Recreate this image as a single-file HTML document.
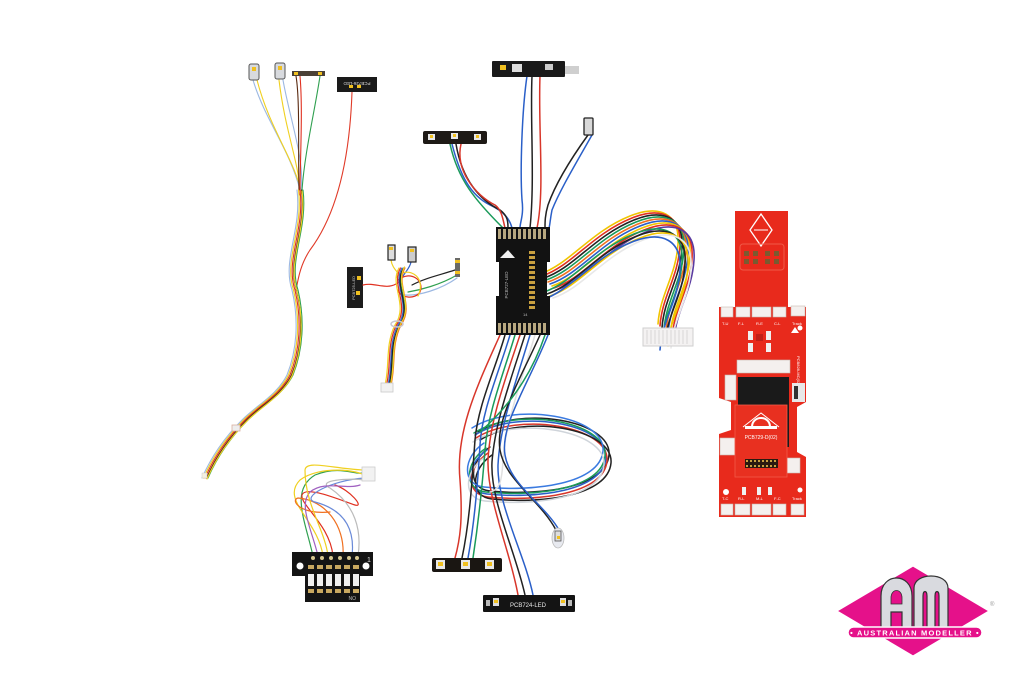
<!DOCTYPE html>
<html><head><meta charset="utf-8"><style>
html,body{margin:0;padding:0;background:#fff;}
svg{display:block;}
text{font-family:"Liberation Sans",sans-serif;}
</style></head><body>
<svg width="1024" height="683" viewBox="0 0 1024 683" xmlns="http://www.w3.org/2000/svg">
<rect width="1024" height="683" fill="#ffffff"/>
<defs>
<path id="trunk" d="M300,190 C305,230 285,260 295,290 C302,320 300,350 290,375 C280,395 260,405 245,420 C230,435 215,455 205,478"/>
<path id="rh" d="M550,280 C580,270 600,238 640,222 C670,210 690,220 688,250 C686,282 670,300 668,330"/>
<path id="mlb" d="M402,268 C392,285 412,305 398,325 C388,345 393,365 388,385"/>
<path id="loop" d="M478,432 C520,405 612,420 609,455 C606,488 540,496 490,491 C468,489 468,462 490,447"/>
</defs>

<!-- ===== Left long harness ===== -->
<g fill="none" stroke-width="1.1" stroke-linecap="round">
<path d="M253,80 C265,120 290,150 300,190" stroke="#9cb8e2"/>
<path d="M257,80 C270,130 295,160 302,195" stroke="#f0d020"/>
<path d="M279,80 C285,130 298,160 300,190" stroke="#f0d020"/>
<path d="M283,80 C290,120 305,160 301,190" stroke="#9cb8e2"/>
<path d="M296,76 C300,100 298,150 299,190" stroke="#5a2a10"/>
<path d="M300,76 C303,110 300,160 300,195" stroke="#e03020"/>
<path d="M320,76 C315,110 305,150 302,190" stroke="#30a050"/>
<path d="M352,92 C350,150 340,210 310,250 C300,265 298,280 296,290" stroke="#e03a28"/>
<use href="#trunk" stroke="#9cb8e2" transform="translate(-3,0)"/>
<use href="#trunk" stroke="#f0d020" transform="translate(-1.5,0)"/>
<use href="#trunk" stroke="#e03020" transform="translate(0,0)"/>
<use href="#trunk" stroke="#5a2a10" transform="translate(1.5,0)"/>
<use href="#trunk" stroke="#30a050" transform="translate(3,0)"/>
<use href="#trunk" stroke="#f0d020" transform="translate(2,1)"/>
</g>
<rect x="232" y="425" width="8" height="6" fill="#eee" stroke="#d9b0a0" stroke-width="0.8"/>
<rect x="202" y="473" width="5" height="5" fill="#f4f0e0" stroke="#ccc" stroke-width="0.5"/>

<!-- top-left components -->
<rect x="249" y="64" width="10" height="16" rx="2" fill="#d8dade" stroke="#555" stroke-width="1"/>
<rect x="252" y="67" width="4" height="4" fill="#f0c020"/>
<rect x="275" y="63" width="10" height="16" rx="2" fill="#d8dade" stroke="#555" stroke-width="1"/>
<rect x="278" y="66" width="4" height="4" fill="#f0c020"/>
<rect x="292" y="71" width="33" height="5" fill="#4a4036"/>
<rect x="294" y="72" width="4" height="3" fill="#f0c020"/><rect x="318" y="72" width="4" height="3" fill="#f0c020"/>
<rect x="337" y="77" width="40" height="15" fill="#1a1a1a"/>
<text x="357" y="84" font-size="4.5" fill="#ddd" text-anchor="middle" transform="rotate(180 357 83)">PCB726-LED</text>
<rect x="349" y="85" width="4" height="3" fill="#f0c020"/><rect x="357" y="85" width="4" height="3" fill="#f0c020"/>

<!-- ===== Middle-left harness ===== -->
<rect x="347" y="267" width="16" height="41" fill="#1c1c1c"/>
<text x="355" y="288" font-size="4" fill="#ccc" text-anchor="middle" transform="rotate(-90 355 288)">PCB725-LED</text>
<rect x="357" y="276" width="4" height="4" fill="#f0c020"/><rect x="356" y="291" width="4" height="4" fill="#f0c020"/>
<g fill="none" stroke-width="1.2" stroke-linecap="round">
<path d="M363,285 C375,282 385,290 396,284 C400,282 402,278 402,272" stroke="#e03020"/>
<path d="M391,260 C392,268 398,272 400,276" stroke="#f0d020"/>
<path d="M411,262 C410,268 405,272 402,278" stroke="#3060c8"/>
<path d="M455,270 C440,275 425,278 412,285" stroke="#222"/>
<path d="M457,275 C440,285 420,290 408,292" stroke="#30a050"/>
<path d="M457,278 C440,290 418,296 405,295" stroke="#9cb8e2"/>
<path d="M398,280 C410,270 425,280 420,292 C415,300 400,298 398,290" stroke="#e03020"/>
<path d="M396,278 C405,265 428,275 418,296" stroke="#f0d020"/>
<use href="#mlb" stroke="#f0d020" transform="translate(-3,0)"/>
<use href="#mlb" stroke="#e03020" transform="translate(-1.5,0)"/>
<use href="#mlb" stroke="#3060c8" transform="translate(0,0)"/>
<use href="#mlb" stroke="#30a050" transform="translate(1.5,0)"/>
<use href="#mlb" stroke="#f07020" transform="translate(3,0)"/>
<use href="#mlb" stroke="#222" transform="translate(1,1)"/>
<use href="#mlb" stroke="#f0d020" transform="translate(2.5,-1)"/>
</g>
<ellipse cx="397" cy="324" rx="6" ry="3" fill="none" stroke="#c8c8d0" stroke-width="1.5"/>
<rect x="388" y="245" width="7" height="15" fill="#ddd" stroke="#222" stroke-width="1.2"/>
<rect x="389" y="247" width="4" height="3" fill="#f0c020"/>
<rect x="408" y="247" width="8" height="15" fill="#ccc" stroke="#222" stroke-width="1.2"/>
<rect x="410" y="249" width="4" height="3" fill="#f0c020"/>
<rect x="455" y="258" width="5" height="19" fill="#6a6a66"/>
<rect x="455" y="260" width="5" height="3" fill="#f0c020"/><rect x="455" y="271" width="5" height="3" fill="#f0c020"/>
<rect x="381" y="383" width="12" height="9" fill="#f2f2f2" stroke="#c8c8c8" stroke-width="0.8"/>

<!-- ===== Top middle wiring ===== -->
<g fill="none" stroke-width="1.5" stroke-linecap="round">
<path d="M527,76 C522,110 520,170 522,200 C524,215 520,222 520,228" stroke="#2a5fc8"/>
<path d="M532,76 C530,120 535,180 530,228" stroke="#222"/>
<path d="M540,76 C538,130 545,190 537,228" stroke="#d8362a"/>
<path d="M450,144 C458,180 475,200 503,228" stroke="#1a9a5a"/>
<path d="M452,144 C460,175 470,195 490,205 C505,212 510,220 512,228" stroke="#2a5fc8"/>
<path d="M456,144 C462,180 480,200 500,210 C508,216 508,222 508,228" stroke="#222"/>
<path d="M461,144 C455,170 475,195 495,205 C502,210 503,220 505,228" stroke="#d8362a"/>
<path d="M588,135 C570,160 555,185 548,205 C545,215 545,222 545,228" stroke="#222"/>
<path d="M592,135 C575,165 560,190 552,210 C550,220 550,225 549,228" stroke="#2a5fc8"/>
</g>
<rect x="492" y="61" width="73" height="16" rx="1" fill="#1a1a1a"/>
<rect x="565" y="66" width="14" height="8" fill="#cfcfcf"/>
<rect x="500" y="65" width="6" height="5" fill="#f0c020"/>
<rect x="512" y="64" width="10" height="8" fill="#ddd"/>
<rect x="545" y="64" width="8" height="6" fill="#ccc"/>
<rect x="423" y="131" width="64" height="13" rx="2" fill="#1e1a16"/>
<rect x="428" y="134" width="7" height="6" fill="#e8e8e8"/><rect x="430" y="135" width="3" height="3" fill="#f0c020"/>
<rect x="451" y="133" width="7" height="6" fill="#e8e8e8"/><rect x="453" y="134" width="3" height="3" fill="#f0c020"/>
<rect x="474" y="134" width="7" height="6" fill="#e8e8e8"/><rect x="476" y="135" width="3" height="3" fill="#f0c020"/>
<rect x="584" y="118" width="9" height="17" rx="1" fill="#d8d8d8" stroke="#222" stroke-width="1.3"/>

<!-- ===== Right harness ===== -->
<g fill="none" stroke-width="1.6" stroke-linecap="round">
<use href="#rh" stroke="#f0c400" transform="translate(-10,-6)"/>
<use href="#rh" stroke="#e03020" transform="translate(-8,-4)"/>
<use href="#rh" stroke="#222" transform="translate(-6,-2)"/>
<use href="#rh" stroke="#1a9a5a" transform="translate(-4,0)"/>
<use href="#rh" stroke="#f07020" transform="translate(-2,2)"/>
<use href="#rh" stroke="#2a5fc8" transform="translate(0,4)"/>
<use href="#rh" stroke="#f0c400" transform="translate(2,6)"/>
<use href="#rh" stroke="#e03020" transform="translate(4,8)"/>
<use href="#rh" stroke="#5a3aa0" transform="translate(6,10)"/>
<use href="#rh" stroke="#1a9a5a" transform="translate(-6,12)"/>
<use href="#rh" stroke="#222" transform="translate(-3,14)"/>
<use href="#rh" stroke="#f0c400" transform="translate(0,16)"/>
<use href="#rh" stroke="#e8e8e8" transform="translate(3,18)"/>
<use href="#rh" stroke="#2a5fc8" transform="translate(-8,20)"/>
</g>
<rect x="643" y="328" width="50" height="18" fill="#f4f2f2" stroke="#cfcfcf" stroke-width="1"/>
<g stroke="#d0d0d0" stroke-width="0.8"><path d="M647,330v14M651,330v14M655,330v14M659,330v14M663,330v14M667,330v14M671,330v14M675,330v14M679,330v14M683,330v14M687,330v14"/></g>

<!-- ===== Bottom wiring from middle board ===== -->
<g fill="none" stroke-width="1.5" stroke-linecap="round">
<use href="#loop" stroke="#222" transform="translate(0,0)"/>
<use href="#loop" stroke="#2a5fc8" transform="translate(-3,3)"/>
<use href="#loop" stroke="#d8362a" transform="translate(-2,6)"/>
<use href="#loop" stroke="#1a9a5a" transform="translate(-4,1)"/>
<use href="#loop" stroke="#222" transform="translate(2,8)"/>
<use href="#loop" stroke="#3a7ae0" transform="translate(-6,-4)"/>
<use href="#loop" stroke="#cfd4da" transform="translate(-5,10)"/>
<path d="M500,335 C480,380 455,430 460,480 C463,520 460,540 455,558" stroke="#d8362a"/>
<path d="M505,335 C495,370 478,405 475,440 C472,480 470,520 462,558" stroke="#222"/>
<path d="M510,335 C498,375 482,410 480,445 C478,480 475,520 468,558" stroke="#2a5fc8"/>
<path d="M515,335 C502,378 488,412 485,450 C482,490 478,525 473,558" stroke="#1a9a5a"/>
<path d="M520,335 C505,380 490,420 488,460 C487,500 510,550 518,595" stroke="#d8362a"/>
<path d="M525,335 C510,382 495,422 492,462 C490,500 515,550 525,595" stroke="#222"/>
<path d="M530,335 C515,385 500,425 498,465 C497,505 525,555 533,595" stroke="#2a5fc8"/>
<path d="M535,335 C520,385 505,425 503,460 C502,480 500,490 490,492" stroke="#e0e0e0"/>
<path d="M540,335 C520,380 495,420 500,450 C505,480 540,500 556,530" stroke="#222"/>
<path d="M548,335 C528,385 500,425 505,455 C510,485 545,505 559,530" stroke="#2a5fc8"/>
<path d="M545,335 C530,380 505,410 480,432" stroke="#1a9a5a"/>
</g>
<ellipse cx="558" cy="538" rx="6" ry="10" fill="#e8eaf0" stroke="#bbb" stroke-width="0.8"/>
<rect x="555" y="531" width="6" height="10" fill="#ddd" stroke="#555" stroke-width="0.8"/>
<rect x="557" y="536" width="3" height="3" fill="#f0c020"/>

<!-- bottom boards -->
<rect x="432" y="558" width="70" height="14" rx="2" fill="#1a1612"/>
<rect x="436" y="560" width="9" height="9" fill="#e8e8e8"/><rect x="438" y="562" width="5" height="4" fill="#f0c020"/>
<rect x="461" y="560" width="9" height="9" fill="#e8e8e8"/><rect x="463" y="562" width="5" height="4" fill="#f0c020"/>
<rect x="485" y="560" width="9" height="9" fill="#e8e8e8"/><rect x="487" y="562" width="5" height="4" fill="#f0c020"/>
<rect x="483" y="595" width="92" height="17" rx="1" fill="#141414"/>
<rect x="493" y="598" width="6" height="8" fill="#ddd"/><rect x="494" y="600" width="4" height="3" fill="#f0c020"/>
<rect x="560" y="598" width="6" height="8" fill="#ddd"/><rect x="561" y="600" width="4" height="3" fill="#f0c020"/>
<rect x="486" y="600" width="4" height="6" fill="#bbb"/><rect x="568" y="600" width="4" height="6" fill="#bbb"/>
<text x="528" y="607" font-size="6" fill="#e8e8e8" text-anchor="middle">PCB724-LED</text>

<!-- ===== DIP switch board and wires ===== -->
<g fill="none" stroke-width="1.2" stroke-linecap="round">
<path d="M313,556 C305,520 290,490 315,475 C340,465 355,475 362,473" stroke="#30a050"/>
<path d="M323,556 C318,520 280,500 300,480 C320,465 360,470 365,476" stroke="#f0d020"/>
<path d="M333,556 C330,525 300,505 302,495 C305,485 340,500 355,505 C365,508 350,490 335,485" stroke="#e03020"/>
<path d="M343,556 C345,525 325,500 298,498 C290,500 300,515 330,512" stroke="#f07020"/>
<path d="M352,556 C355,530 345,510 315,502 C300,498 330,480 365,478" stroke="#6a8ad8"/>
<path d="M358,556 C362,530 355,505 330,488 C315,480 350,478 364,480" stroke="#bbb"/>
<path d="M318,556 C312,530 298,505 310,492 C325,480 345,490 360,485" stroke="#a060c0"/>
<path d="M328,556 C325,530 305,505 305,470 C306,460 330,468 362,470" stroke="#f0d020"/>
</g>
<rect x="362" y="467" width="13" height="14" fill="#f2f2f2" stroke="#ccc" stroke-width="0.8"/>
<path d="M292,552 H373 V576 H360 V602 H305 V576 H292 Z" fill="#141414"/>
<circle cx="300" cy="566" r="3.5" fill="#fff"/>
<circle cx="366" cy="566" r="3.5" fill="#fff"/>
<g fill="#d8c890"><circle cx="313" cy="558" r="2"/><circle cx="322" cy="558" r="2"/><circle cx="331" cy="558" r="2"/><circle cx="340" cy="558" r="2"/><circle cx="349" cy="558" r="2"/><circle cx="357" cy="558" r="2"/></g>
<g fill="#c8a860">
<rect x="308" y="565" width="6" height="4"/><rect x="317" y="565" width="6" height="4"/><rect x="326" y="565" width="6" height="4"/><rect x="335" y="565" width="6" height="4"/><rect x="344" y="565" width="6" height="4"/><rect x="353" y="565" width="6" height="4"/>
<rect x="308" y="589" width="6" height="4"/><rect x="317" y="589" width="6" height="4"/><rect x="326" y="589" width="6" height="4"/><rect x="335" y="589" width="6" height="4"/><rect x="344" y="589" width="6" height="4"/><rect x="353" y="589" width="6" height="4"/>
</g>
<g fill="#f0f0f0">
<rect x="308" y="574" width="6" height="12"/><rect x="317" y="574" width="6" height="12"/><rect x="326" y="574" width="6" height="12"/><rect x="335" y="574" width="6" height="12"/><rect x="344" y="574" width="6" height="12"/><rect x="353" y="574" width="6" height="12"/>
</g>
<text x="367" y="562" font-size="7" fill="#ddd">1</text>
<text x="352" y="600" font-size="5" fill="#bbb" transform="rotate(180 354 598)">ON</text>

<!-- ===== Middle black board ===== -->
<path d="M496,227 H550 V262 H547 V296 H550 V335 H496 V296 H499 V262 H496 Z" fill="#121212"/>
<g fill="#b8a880">
<rect x="498" y="229" width="3" height="10"/><rect x="503" y="229" width="3" height="10"/><rect x="508" y="229" width="3" height="10"/><rect x="513" y="229" width="3" height="10"/><rect x="518" y="229" width="3" height="10"/><rect x="523" y="229" width="3" height="10"/><rect x="528" y="229" width="3" height="10"/><rect x="533" y="229" width="3" height="10"/><rect x="538" y="229" width="3" height="10"/><rect x="543" y="229" width="3" height="10"/>
<rect x="498" y="323" width="3" height="10"/><rect x="503" y="323" width="3" height="10"/><rect x="508" y="323" width="3" height="10"/><rect x="513" y="323" width="3" height="10"/><rect x="518" y="323" width="3" height="10"/><rect x="523" y="323" width="3" height="10"/><rect x="528" y="323" width="3" height="10"/><rect x="533" y="323" width="3" height="10"/><rect x="538" y="323" width="3" height="10"/><rect x="543" y="323" width="3" height="10"/>
</g>
<polygon points="500,258 508,250 515,258" fill="#f0f0f0"/>
<g fill="#c8a040">
<rect x="529" y="251" width="6" height="3"/><rect x="529" y="256" width="6" height="3"/><rect x="529" y="261" width="6" height="3"/><rect x="529" y="266" width="6" height="3"/><rect x="529" y="271" width="6" height="3"/><rect x="529" y="276" width="6" height="3"/><rect x="529" y="281" width="6" height="3"/><rect x="529" y="286" width="6" height="3"/><rect x="529" y="291" width="6" height="3"/><rect x="529" y="296" width="6" height="3"/><rect x="529" y="301" width="6" height="3"/><rect x="529" y="306" width="6" height="3"/>
</g>
<text x="508" y="285" font-size="4.5" fill="#bbb" text-anchor="middle" transform="rotate(-90 508 285)">PCB727-LED</text>
<text x="523" y="316" font-size="4" fill="#bbb">14</text>

<!-- ===== Red PCB ===== -->
<rect x="735" y="211" width="53" height="96" fill="#e82a1c"/>
<path d="M719,307 H806 V402 L797,407 V452 L806,457 V517 H719 V434 L731,430 V402 L719,398 Z" fill="#e82a1c"/>
<path d="M761,214 L772,230 L761,246 L750,230 Z" fill="none" stroke="#fff" stroke-width="1.3"/>
<path d="M754,230 H768" stroke="#fff" stroke-width="1"/>
<g fill="#7a5a30"><rect x="744" y="251" width="5" height="5"/><rect x="753" y="251" width="5" height="5"/><rect x="765" y="251" width="5" height="5"/><rect x="774" y="251" width="5" height="5"/>
<rect x="744" y="259" width="5" height="5"/><rect x="753" y="259" width="5" height="5"/><rect x="765" y="259" width="5" height="5"/><rect x="774" y="259" width="5" height="5"/></g>
<rect x="740" y="244" width="44" height="26" rx="3" fill="none" stroke="#f05a48" stroke-width="1"/>
<g fill="#f4f0ee" stroke="#c8b8b0" stroke-width="0.6">
<rect x="721" y="307" width="12" height="10"/><rect x="736" y="307" width="14" height="10"/><rect x="752" y="307" width="19" height="10"/><rect x="773" y="307" width="13" height="10"/><rect x="791" y="306" width="14" height="10"/>
<rect x="721" y="504" width="12" height="11"/><rect x="735" y="504" width="15" height="11"/><rect x="752" y="504" width="19" height="11"/><rect x="773" y="504" width="13" height="11"/><rect x="791" y="504" width="13" height="11"/>
<rect x="725" y="375" width="11" height="25"/><rect x="720" y="438" width="15" height="17"/><rect x="787" y="458" width="13" height="15"/>
<rect x="737" y="360" width="53" height="13"/>
</g>
<g fill="#fff" font-size="4"><text x="722" y="325">T-U</text><text x="738" y="325">F-L</text><text x="756" y="325">R-E</text><text x="774" y="325">C-L</text><text x="792" y="325">Track</text>
<text x="722" y="500">T-C</text><text x="738" y="500">R-L</text><text x="756" y="500">M-L</text><text x="774" y="500">F-C</text><text x="792" y="500">Track</text></g>
<g fill="#f0f0f0"><rect x="748" y="331" width="5" height="9"/><rect x="766" y="331" width="5" height="9"/><rect x="748" y="343" width="5" height="9"/><rect x="766" y="343" width="5" height="9"/></g>
<rect x="756" y="334" width="7" height="7" fill="#c02018"/>
<polygon points="791,333 799,333 795,327" fill="#fff"/>
<text x="797" y="356" font-size="4" fill="#fff" transform="rotate(90 797 356)">PCB828-MC(02)</text>
<rect x="738" y="377" width="51" height="70" fill="#1a1a1a"/>
<rect x="792" y="383" width="13" height="19" fill="#e8e8e8"/>
<rect x="794" y="386" width="4" height="13" fill="#333"/>
<rect x="735" y="405" width="52" height="72" fill="#e83020" stroke="#f05a48" stroke-width="0.8"/>
<path d="M752,427 C752,415 770,415 770,427" fill="none" stroke="#fff" stroke-width="2"/>
<path d="M743,427 L761,413 L779,427" fill="none" stroke="#fff" stroke-width="1"/>
<rect x="745" y="426" width="32" height="3" fill="#fff"/>
<text x="761" y="439" font-size="5" fill="#fff" text-anchor="middle">PCB729-D(02)</text>
<rect x="745" y="459" width="33" height="9" fill="#2a1a10"/>
<g fill="#c8a040"><rect x="746" y="460" width="2" height="2"/><rect x="750" y="460" width="2" height="2"/><rect x="754" y="460" width="2" height="2"/><rect x="758" y="460" width="2" height="2"/><rect x="762" y="460" width="2" height="2"/><rect x="766" y="460" width="2" height="2"/><rect x="770" y="460" width="2" height="2"/><rect x="774" y="460" width="2" height="2"/>
<rect x="746" y="465" width="2" height="2"/><rect x="750" y="465" width="2" height="2"/><rect x="754" y="465" width="2" height="2"/><rect x="758" y="465" width="2" height="2"/><rect x="762" y="465" width="2" height="2"/><rect x="766" y="465" width="2" height="2"/><rect x="770" y="465" width="2" height="2"/><rect x="774" y="465" width="2" height="2"/></g>
<g fill="#f0f0f0"><rect x="742" y="487" width="4" height="8"/><rect x="757" y="487" width="4" height="8"/><rect x="768" y="487" width="4" height="8"/></g>
<circle cx="726" cy="492" r="3" fill="#fff"/><circle cx="800" cy="328" r="2.5" fill="#fff"/><circle cx="800" cy="490" r="2.5" fill="#fff"/>

<!-- ===== Logo ===== -->
<polygon points="837,611 913,566 989,611 913,656" fill="#e5118a" stroke="#fff" stroke-width="1.2"/>
<path d="M881,627 V596 C881,572 912,572 912,596 V627 H902 V612 H891 V627 Z" fill="#d9dadf" stroke="#333" stroke-width="1.2"/>
<path d="M891,604 V598 C891,588 902,588 902,598 V604 Z" fill="#e5118a" stroke="#333" stroke-width="0.8"/>
<path d="M914,627 V588 C914,572 948,572 948,588 V627 H939 V596 C939,590 935,590 935,596 V627 H927 V596 C927,590 923,590 923,596 V627 Z" fill="#d9dadf" stroke="#333" stroke-width="1.2"/>
<rect x="848" y="627" width="134" height="11" rx="5.5" fill="#e5118a" stroke="#fff" stroke-width="1.4"/>
<text x="915" y="635.5" font-size="7.5" font-weight="bold" fill="#fff" text-anchor="middle" letter-spacing="1.2">• AUSTRALIAN MODELLER •</text>
<text x="990" y="606" font-size="6" fill="#999">®</text>
</svg>
</body></html>
